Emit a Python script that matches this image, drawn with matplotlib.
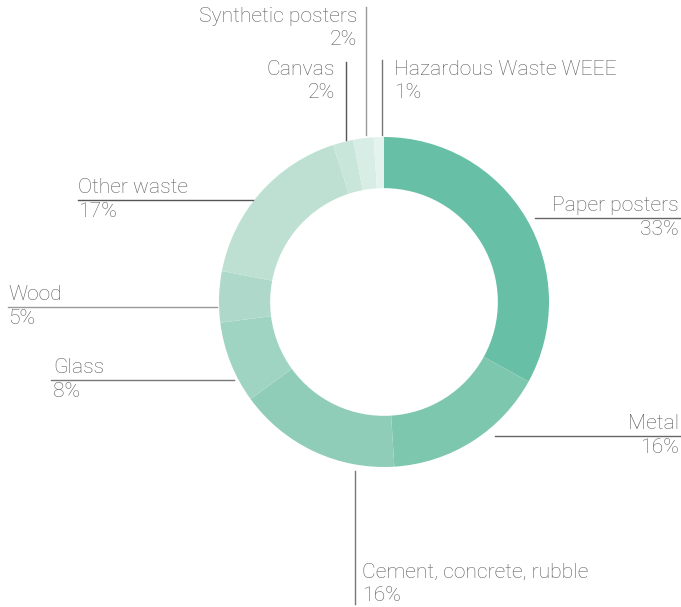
import matplotlib
matplotlib.use("Agg")
import matplotlib.pyplot as plt

# Waste composition, clockwise from 12 o'clock
categories = ["Paper posters", "Metal", "Cement, concrete, rubble", "Glass", "Wood",
              "Other waste", "Canvas", "Synthetic posters", "Hazardous Waste WEEE"]
shares = [33, 16, 16, 8, 5, 17, 2, 2, 1]
colors = ["#67bfa5", "#7dc7af", "#8fcdb8", "#a0d4c2", "#aed9ca",
          "#bde0d3", "#c9e6db", "#d7ede5", "#e5f3ee"]

W, H = 681, 607
CX, CY, R = 384, 305, 165
TEXT = "#5c5c5c"

fig = plt.figure(figsize=(W / 100, H / 100), dpi=100)
ax = fig.add_axes([0, 0, 1, 1])
ax.pie(shares, colors=colors, startangle=90, counterclock=False,
       center=(CX, CY), radius=R,
       wedgeprops=dict(width=R * 0.31, linewidth=0))
ax.set_xlim(0, W)
ax.set_ylim(0, H)
ax.set_aspect("equal")
ax.axis("off")

font = dict(family=["Roboto", "DejaVu Sans"], fontweight="light", fontsize=15.2, color=TEXT)


def y(py):
    return H - py


# (label index, line from, line to, text x, name y, pct y, ha, line colour)
hlabels = [
    (0, (535, 218), (680, 218), 679, 215, 220, "right", "#666666"),
    (1, (495, 436), (680, 436), 679, 433, 438, "right", "#666666"),
    (3, (51, 380), (234, 380), 53, 377, 382, "left", "#777777"),
    (4, (8, 307), (217, 307), 8, 304, 309, "left", "#999999"),
    (5, (78, 200), (253, 200), 78, 197, 202, "left", "#555555"),
]
for i, p0, p1, tx, ny, py, ha, lc in hlabels:
    ax.plot([p0[0], p1[0]], [y(p0[1]), y(p1[1])], color=lc, lw=1)
    ax.text(tx, y(ny), categories[i], ha=ha, va="bottom", **font)
    ax.text(tx, y(py), f"{shares[i]}%", ha=ha, va="top", **font)

# vertical leaders
vlabels = [
    (2, 355, 471, 604, 362, 582, 586, "left", "#777777"),
    (6, 346, 62, 140, 335, 79, 83, "right", "#555555"),
    (7, 366, 7, 135, 357, 26, 30, "right", "#999999"),
    (8, 382, 60, 135, 394, 79, 83, "left", "#777777"),
]
for i, lx, y0, y1, tx, ny, py, ha, lc in vlabels:
    ax.plot([lx, lx], [y(y0), y(y1)], color=lc, lw=1)
    ax.text(tx, y(ny), categories[i], ha=ha, va="bottom", **font)
    ax.text(tx, y(py), f"{shares[i]}%", ha=ha, va="top", **font)

fig.savefig("out.png", dpi=100, facecolor="white")
